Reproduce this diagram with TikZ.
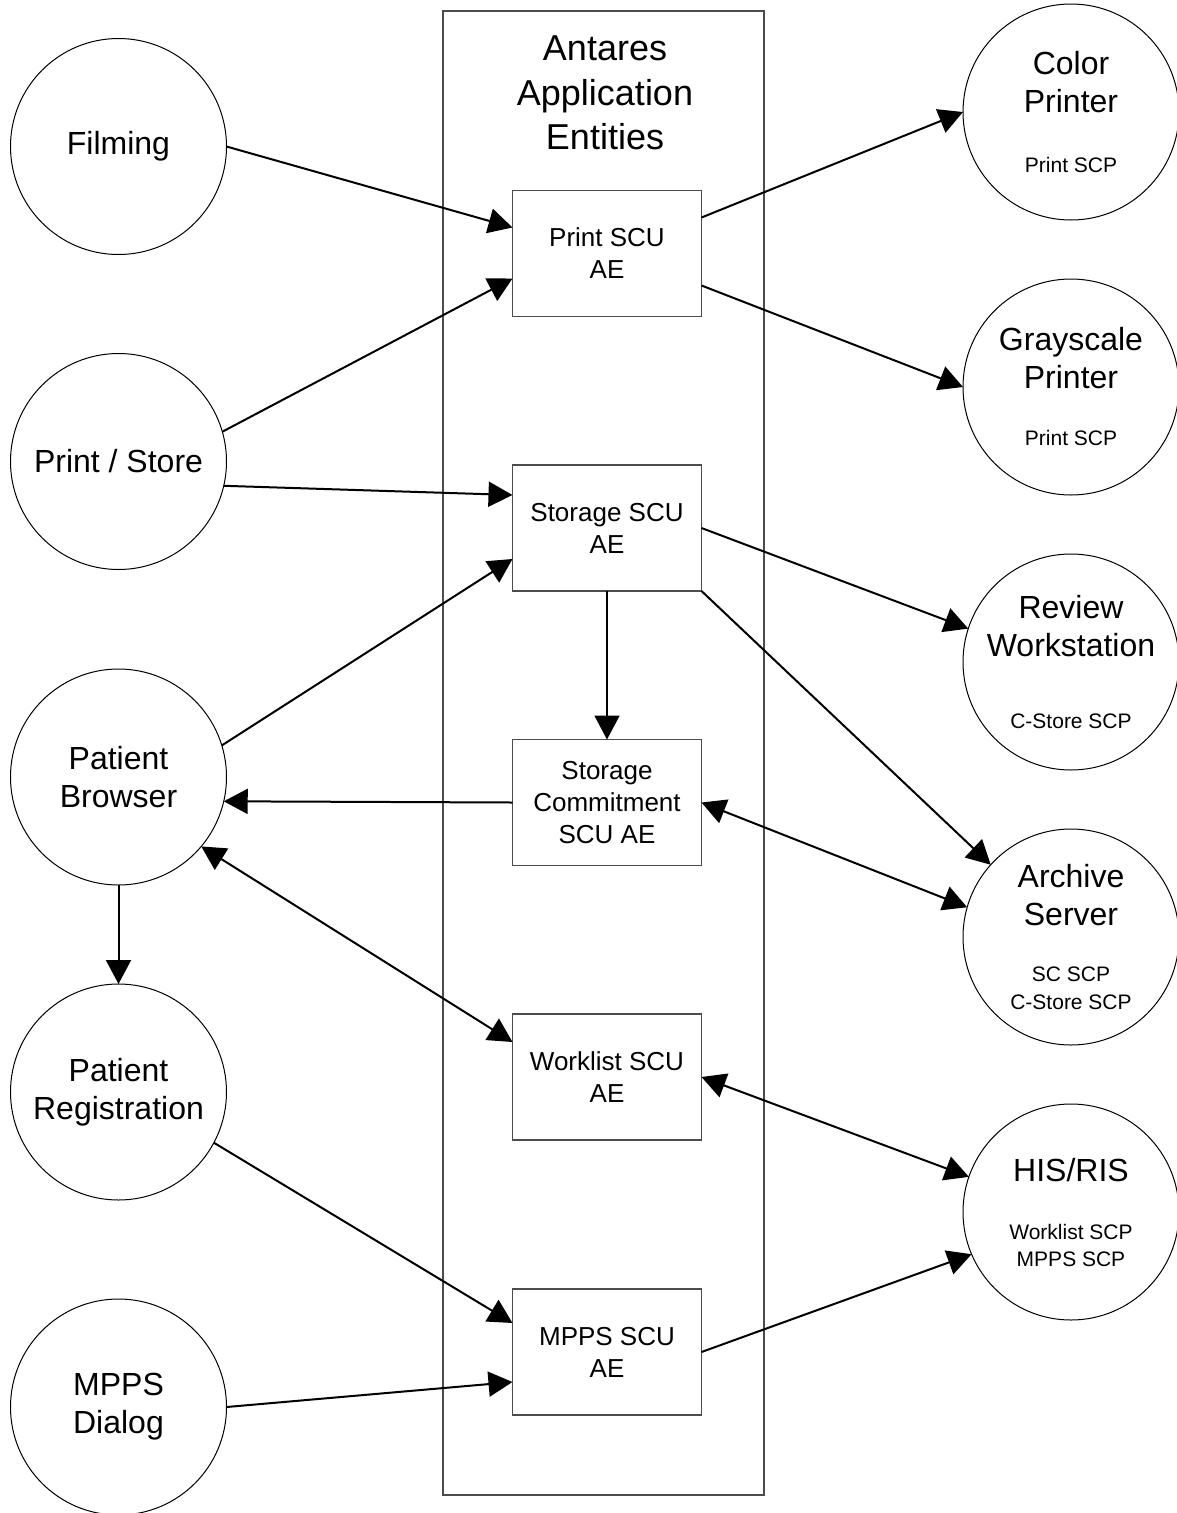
\documentclass[tikz,border=0pt]{standalone}
\usepackage{fontspec}
\setmainfont{Liberation Sans}
\usetikzlibrary{arrows.meta}

\newcommand{\scpfont}{\fontsize{21}{38}\selectfont}

\begin{document}
\begin{tikzpicture}[x=1pt,y=-1pt,
    party/.style={circle,draw,line width=1pt,minimum size=216pt,inner sep=0pt,outer sep=0pt,align=center,font=\fontsize{32}{38}\selectfont},
    entity/.style={rectangle,draw=black!70,line width=1.3pt,minimum width=189pt,minimum height=126pt,inner sep=0pt,outer sep=0pt,align=center,font=\fontsize{26}{32}\selectfont},
    link/.style={line width=2pt,-{Triangle[length=24pt,width=25pt]}},
    dlink/.style={line width=2pt,{Triangle[length=24pt,width=25pt]}-{Triangle[length=24pt,width=25pt]}}]
    \useasboundingbox (0,0) rectangle (1177,1513);

    % Application entities
    \node[draw=black!70,line width=1.3pt,minimum width=321pt,minimum height=1484pt,inner sep=0pt] (frame) at (603.5,753) {};
    \node[align=center,font=\fontsize{36}{44.5}\selectfont] (title) at (605,93) {Antares\\Application\\Entities};
    \node[entity] (printscu) at (607,253.5) {Print SCU\\AE};
    \node[entity] (storagescu) at (607,528) {Storage SCU\\AE};
    \node[entity] (commitscu) at (607,802.5) {Storage\\Commitment\\SCU AE};
    \node[entity] (worklistscu) at (607,1077) {Worklist SCU\\AE};
    \node[entity] (mppsscu) at (607,1352) {MPPS SCU\\AE};

    % Local applications
    \node[party] (filming) at (118.5,146.5) {Filming};
    \node[party] (printstore) at (118.5,461.5) {Print / Store};
    \node[party] (browser) at (118.5,777) {Patient\\Browser};
    \node[party] (registration) at (118.5,1092) {Patient\\Registration};
    \node[party] (mppsdialog) at (118.5,1407) {MPPS\\Dialog};

    % Remote applications
    \node[party] (colorpr) at (1071,112) {Color\\Printer\\[22pt]\scpfont Print SCP};
    \node[party] (grayscale) at (1071,387) {Grayscale\\Printer\\[19pt]\scpfont Print SCP};
    \node[party] (review) at (1071,662) {Review\\Workstation\\[34pt]\scpfont C-Store SCP};
    \node[party] (archive) at (1071,937) {Archive\\Server\\[18pt]\scpfont SC SCP\\[-10pt]\scpfont C-Store SCP};
    \node[party] (hisris) at (1071,1212) {HIS/RIS\\[20pt]\scpfont Worklist SCP\\[-11pt]\scpfont MPPS SCP};

    % Connections
    \draw[link] (filming.east) -- ([yshift=26pt]printscu.west);
    \draw[link] (printstore.16) -- ([yshift=-25pt]printscu.west);
    \draw[link] (printstore.-13) -- ([yshift=33pt]storagescu.west);
    \draw[link] (browser.17) -- ([yshift=-31pt]storagescu.west);
    \draw[link] (storagescu.south) -- (commitscu.north);
    \draw[link] (commitscu.west) -- (browser.-13.6);
    \draw[dlink] (browser.-40) -- ([yshift=35pt]worklistscu.west);
    \draw[link] (browser.south) -- (registration.north);
    \draw[link] (registration.-28) -- ([yshift=29pt]mppsscu.west);
    \draw[link] (mppsdialog.east) -- ([yshift=-30pt]mppsscu.west);
    \draw[link] ([yshift=36pt]printscu.east) -- (colorpr.west);
    \draw[link] ([yshift=-32pt]printscu.east) -- (grayscale.west);
    \draw[link] (storagescu.east) -- (review.162);
    \draw[link] (storagescu.south east) -- (archive.138);
    \draw[dlink] (commitscu.east) -- (archive.164);
    \draw[dlink] (worklistscu.east) -- (hisris.161);
    \draw[link] (mppsscu.east) -- (hisris.-157);
\end{tikzpicture}
\end{document}
